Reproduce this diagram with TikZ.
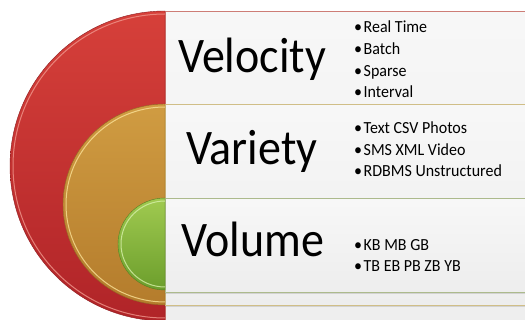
\documentclass[tikz,border=0pt]{standalone}
\usepackage{fontspec}
\setmainfont{Carlito}
\usepackage{tikz}
\usetikzlibrary{positioning,shadows}

\definecolor{redtop}{RGB}{214,64,58}
\definecolor{redbot}{RGB}{176,36,40}
\definecolor{redrim}{RGB}{240,150,140}
\definecolor{goldtop}{RGB}{208,156,66}
\definecolor{goldbot}{RGB}{180,124,44}
\definecolor{goldrim}{RGB}{250,225,150}
\definecolor{greentop}{RGB}{160,202,80}
\definecolor{greenbot}{RGB}{108,158,44}
\definecolor{greenrim}{RGB}{215,240,170}
\definecolor{redline}{RGB}{205,125,118}
\definecolor{goldline}{RGB}{208,190,135}
\definecolor{greenline}{RGB}{172,186,140}

\newcommand{\itm}{\textbullet\kern1.5pt}

\begin{document}
\begin{tikzpicture}[x=1pt,y=-1pt,
		panel/.style={minimum width=360pt,anchor=north west,inner sep=0pt,line width=0.8pt,
			top color=white!97!black,bottom color=white!93!black,
			drop shadow={opacity=0.25,shadow xshift=0pt,shadow yshift=-1.5pt}},
		title/.style={anchor=base west,inner sep=0pt,font=\fontsize{46}{46}\selectfont,yscale=1.08,transform shape},
		items/.style={anchor=base west,inner sep=0pt,align=left,font=\fontsize{16}{20.5}\selectfont,yscale=1.06,transform shape},
		rim/.style={line width=1pt,opacity=0.8}]
		\useasboundingbox (0,0) rectangle (525,320);
		\clip (0,0) rectangle (525,320);
		
		% red layer
		\node[panel,draw=redline,minimum height=330pt] (redpanel) at (165,11) {};
		\shade[top color=redtop,bottom color=redbot,draw=redbot!80!black,line width=0.4pt]
			(165,11) arc[start angle=90,end angle=270,x radius=155pt,y radius=155pt] -- cycle;
		\draw[rim,redrim] (165,14) arc[start angle=90,end angle=270,x radius=152pt,y radius=152pt];
		
		% gold layer
		\node[panel,draw=goldline,minimum height=201pt] (goldpanel) at (165,104) {};
		\shade[top color=goldtop,bottom color=goldbot,draw=goldbot!80!black,line width=0.4pt]
			(165,104) arc[start angle=90,end angle=270,x radius=102pt,y radius=100.5pt] -- cycle;
		\draw[rim,goldrim] (165,107) arc[start angle=90,end angle=270,x radius=99pt,y radius=97.5pt];
		
		% green layer
		\node[panel,draw=greenline,minimum height=94pt] (greenpanel) at (165,198) {};
		\shade[top color=greentop,bottom color=greenbot,draw=greenbot!80!black,line width=0.4pt]
			(165,198) arc[start angle=90,end angle=270,x radius=47pt,y radius=46pt] -- cycle;
		\draw[rim,greenrim] (165,201) arc[start angle=90,end angle=270,x radius=44pt,y radius=43pt];
		
		% texts (items anchored at the last line)
		\node[title] (velocity) at (178,73) {Velocity};
		\node[title] (variety) at (186,165) {Variety};
		\node[title] (volume) at (181,257) {Volume};
		
		\node[items] (velitems) at (354,98) {\itm Real Time\\\itm Batch\\\itm Sparse\\\itm Interval};
		\node[items] (varitems) at (354,177) {\itm Text CSV Photos\\\itm SMS XML Video\\\itm RDBMS Unstructured};
		\node[items] (volitems) at (354,272) {\itm KB MB GB\\\itm TB EB PB ZB YB};
	\end{tikzpicture}
\end{document}
